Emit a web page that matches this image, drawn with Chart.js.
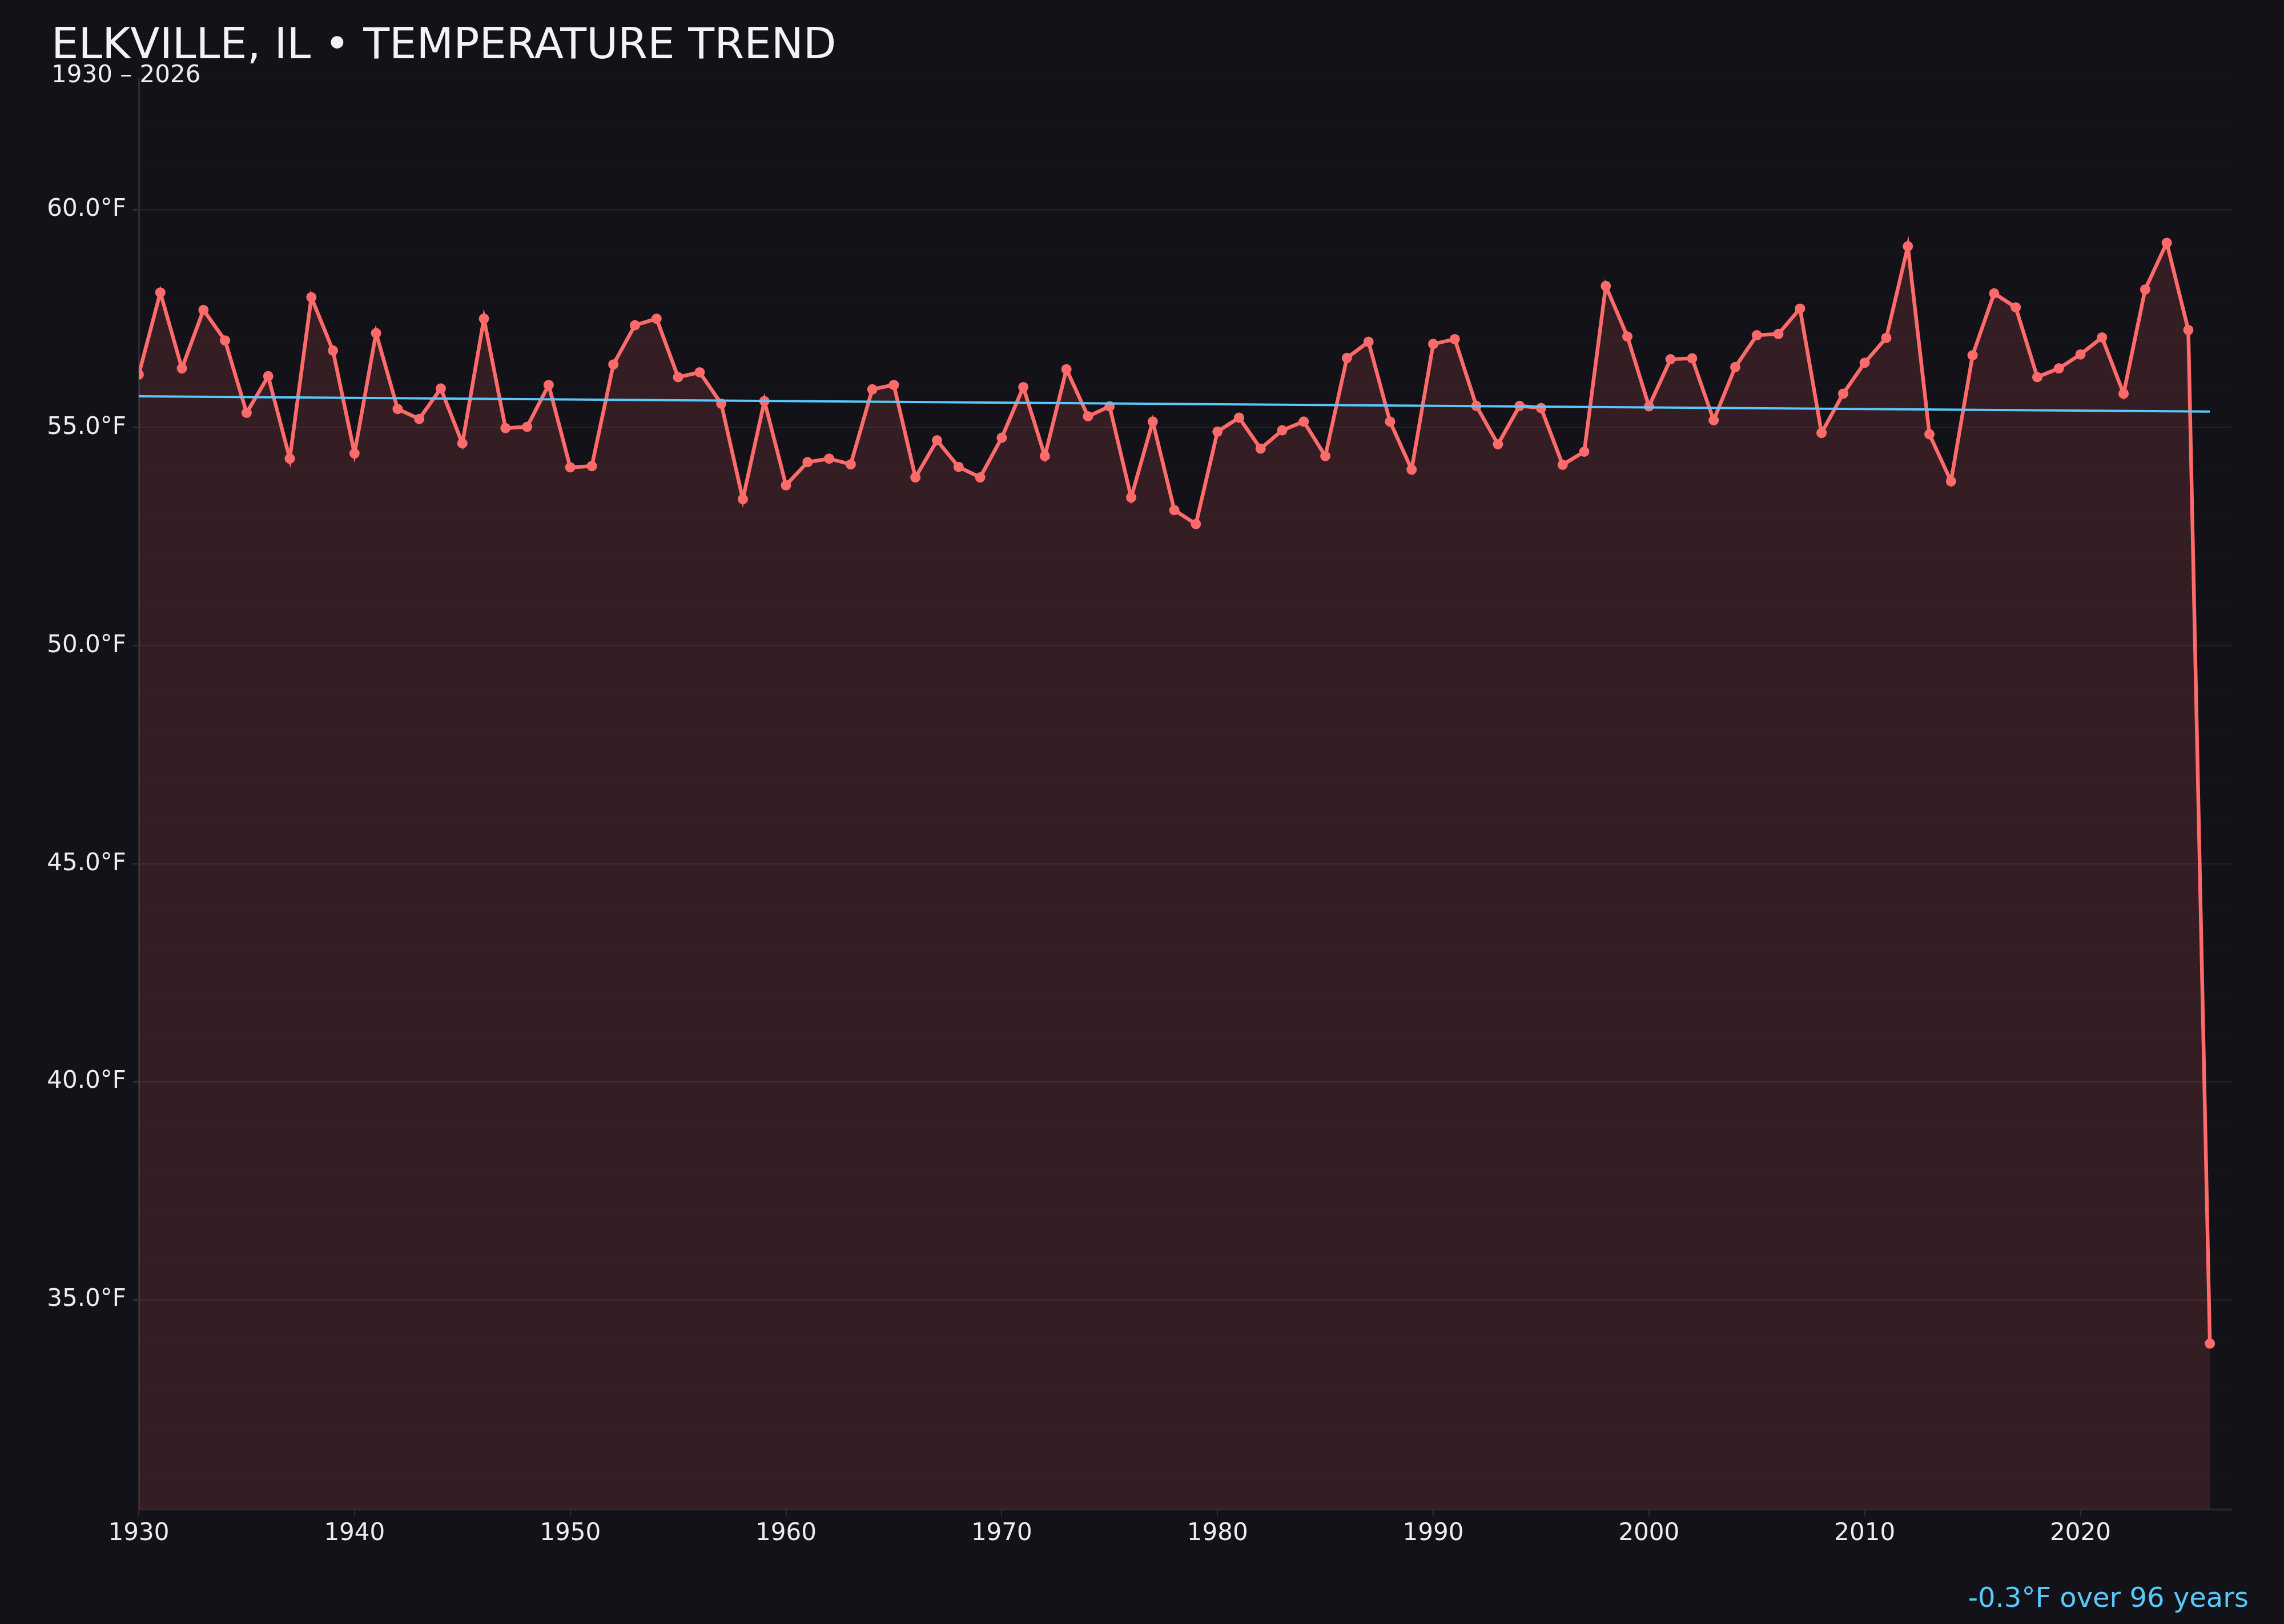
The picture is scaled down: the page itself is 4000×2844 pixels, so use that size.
<!DOCTYPE html>
<html>
<head>
<meta charset="utf-8">
<script src="https://cdn.jsdelivr.net/npm/chart.js@4.4.1/dist/chart.umd.min.js"></script>
<style>
  html, body { margin: 0; padding: 0; background: #131218; }
  #wrap { width: 4000px; height: 2844px; }
</style>
</head>
<body>
<div id="wrap"><canvas id="chart" width="4000" height="2844"></canvas></div>
<script>
// Yearly mean temperature
const years = [
    1930, 1931, 1932, 1933, 1934, 1935, 1936, 1937, 1938, 1939,
    1940, 1941, 1942, 1943, 1944, 1945, 1946, 1947, 1948, 1949,
    1950, 1951, 1952, 1953, 1954, 1955, 1956, 1957, 1958, 1959,
    1960, 1961, 1962, 1963, 1964, 1965, 1966, 1967, 1968, 1969,
    1970, 1971, 1972, 1973, 1974, 1975, 1976, 1977, 1978, 1979,
    1980, 1981, 1982, 1983, 1984, 1985, 1986, 1987, 1988, 1989,
    1990, 1991, 1992, 1993, 1994, 1995, 1996, 1997, 1998, 1999,
    2000, 2001, 2002, 2003, 2004, 2005, 2006, 2007, 2008, 2009,
    2010, 2011, 2012, 2013, 2014, 2015, 2016, 2017, 2018, 2019,
    2020, 2021, 2022, 2023, 2024, 2025, 2026
];
const temps = [
    56.22, 58.10, 56.36, 57.70, 57.00, 55.34, 56.18, 54.29, 57.99, 56.77,
    54.41, 57.17, 55.43, 55.20, 55.90, 54.64, 57.50, 54.99, 55.02, 55.98,
    54.09, 54.12, 56.45, 57.35, 57.50, 56.16, 56.27, 55.55, 53.36, 55.61,
    53.68, 54.21, 54.29, 54.16, 55.88, 55.98, 53.86, 54.71, 54.10, 53.86,
    54.77, 55.93, 54.35, 56.34, 55.26, 55.49, 53.40, 55.14, 53.11, 52.79,
    54.91, 55.23, 54.52, 54.94, 55.14, 54.35, 56.60, 56.97, 55.14, 54.04,
    56.92, 57.03, 55.50, 54.62, 55.50, 55.45, 54.15, 54.45, 58.25, 57.09,
    55.49, 56.57, 56.59, 55.17, 56.39, 57.12, 57.15, 57.73, 54.88, 55.78,
    56.49, 57.06, 59.16, 54.85, 53.77, 56.66, 58.08, 57.76, 56.16, 56.36,
    56.68, 57.07, 55.78, 58.17, 59.24, 57.24, 34.00
];

// trend line end points
const trendYears = [1930, 2026];
const trendTemps = [55.72, 55.37];

const xTicks = [1930, 1940, 1950, 1960, 1970, 1980, 1990, 2000, 2010, 2020];
const yLabelTicks = [35, 40, 45, 50, 55, 60];

const titleText = 'ELKVILLE, IL \u2022 TEMPERATURE TREND';
const subtitleText = '1930 \u2013 2026';
const noteText = '-0.3\u00B0F over 96 years';

const BG = '#131218';
const RED = '#ff6b6b';
const BLUE = '#5ac8fa';
const TEXT = '#ececf1';
const AXIS = '#2c2c34';
const FONT = '"DejaVu Sans", "Liberation Sans", sans-serif';

const tempPoints = years.map((yr, i) => ({ x: yr, y: temps[i] }));
const trendPoints = trendYears.map((yr, i) => ({ x: yr, y: trendTemps[i] }));

// background + header / footer text
const decor = {
    id: 'decor',
    beforeDraw(chart) {
        const ctx = chart.ctx;
        ctx.save();
        ctx.fillStyle = BG;
        ctx.fillRect(0, 0, chart.width, chart.height);
        ctx.restore();
    },
    afterDraw(chart) {
        const ctx = chart.ctx;
        ctx.save();
        ctx.textAlign = 'left';
        ctx.textBaseline = 'alphabetic';
        ctx.fillStyle = '#f2f2f7';
        ctx.font = '75px ' + FONT;
        ctx.fillText(titleText, 90, 102);
        ctx.fillStyle = TEXT;
        ctx.font = '42px ' + FONT;
        ctx.fillText(subtitleText, 90, 144);
        ctx.fillStyle = BLUE;
        ctx.font = '48px ' + FONT;
        ctx.textAlign = 'right';
        ctx.fillText(noteText, 3938, 2814);
        ctx.restore();
    }
};

const ctx = document.getElementById('chart').getContext('2d');
new Chart(ctx, {
    type: 'line',
    data: {
        datasets: [
            {
                label: 'Trend',
                data: trendPoints,
                borderColor: BLUE,
                borderWidth: 4,
                pointRadius: 0,
                fill: false,
                tension: 0
            },
            {
                label: 'Mean temperature',
                data: tempPoints,
                borderColor: RED,
                backgroundColor: 'rgba(255, 107, 107, 0.14)',
                borderWidth: 6.5,
                pointRadius: 9,
                pointBorderWidth: 0,
                pointBackgroundColor: RED,
                fill: 'start',
                tension: 0
            }
        ]
    },
    options: {
        responsive: false,
        devicePixelRatio: 1,
        animation: false,
        layout: { padding: { top: 138, right: 92, left: 0, bottom: 0 } },
        plugins: {
            legend: { display: false },
            tooltip: { enabled: false }
        },
        scales: {
            x: {
                type: 'linear',
                min: 1930,
                max: 2027,
                afterBuildTicks(scale) {
                    scale.ticks = xTicks.map(v => ({ value: v }));
                },
                afterFit(scale) { scale.height = 201; },
                border: { display: true, color: AXIS, width: 3 },
                grid: { drawOnChartArea: false, drawTicks: true, tickLength: 12, color: AXIS, lineWidth: 2 },
                ticks: {
                    color: TEXT,
                    font: { family: FONT, size: 42 },
                    padding: 6,
                    maxRotation: 0,
                    autoSkip: false,
                    callback: v => String(v)
                }
            },
            y: {
                type: 'linear',
                min: 30.2,
                max: 63.0,
                afterFit(scale) { scale.width = 243; },
                border: { display: true, color: AXIS, width: 3 },
                grid: {
                    color: c => (yLabelTicks.includes(c.tick.value) ? 'rgba(255,255,255,0.05)' : 'rgba(255,255,255,0.016)'),
                    lineWidth: c => (yLabelTicks.includes(c.tick.value) ? 3 : 2),
                    tickColor: c => (yLabelTicks.includes(c.tick.value) ? AXIS : 'rgba(0,0,0,0)'),
                    tickLength: 10
                },
                ticks: {
                    stepSize: 1,
                    color: TEXT,
                    font: { family: FONT, size: 42 },
                    padding: 12,
                    autoSkip: false,
                    callback: v => (yLabelTicks.includes(v) ? v.toFixed(1) + '\u00B0F' : '')
                }
            }
        }
    },
    plugins: [decor]
});
</script>
</body>
</html>
